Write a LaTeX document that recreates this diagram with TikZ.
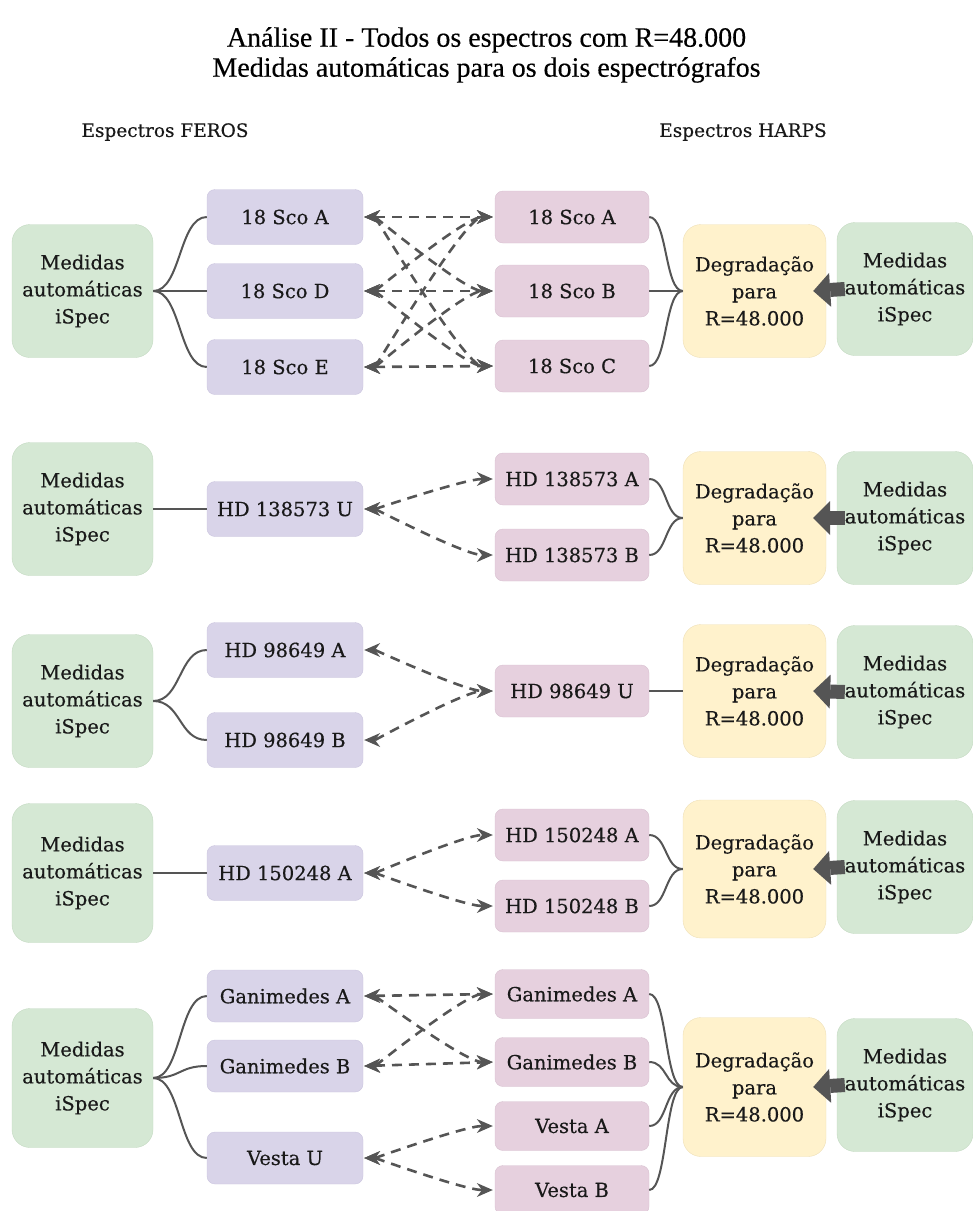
\documentclass[tikz,border=0pt]{standalone}
\usepackage{fontspec}
\setmainfont{DejaVu Serif}[FakeBold=0.4]
\newfontfamily\titlefont{Liberation Serif}[FakeBold=0.3]
\usetikzlibrary{arrows.meta}
\definecolor{greenFill}{HTML}{D5E8D4}
\definecolor{greenLine}{HTML}{C4DAC2}
\definecolor{purpleFill}{HTML}{D9D4E9}
\definecolor{purpleLine}{HTML}{CAC4DE}
\definecolor{pinkFill}{HTML}{E6D0DE}
\definecolor{pinkLine}{HTML}{D8C0D0}
\definecolor{yellowFill}{HTML}{FFF2CC}
\definecolor{yellowLine}{HTML}{EFE0B8}
\definecolor{linkGray}{HTML}{555555}
\tikzstyle{boxText} = [font=\fontsize{19.5}{27}\selectfont, align=center,
   inner sep=0pt, text=black!90]
\tikzstyle{bigGreen} = [boxText, fill=greenFill, draw=greenLine,
   rounded corners=18pt, minimum width=141pt, minimum height=133pt]
\tikzstyle{bigYellow} = [boxText, fill=yellowFill, draw=yellowLine,
   rounded corners=18pt, minimum width=143pt, minimum height=133pt]
\tikzstyle{rightGreen} = [bigGreen, minimum width=136pt]
\tikzstyle{ferosBox} = [boxText, fill=purpleFill, draw=purpleLine,
   rounded corners=8pt, minimum width=156pt, minimum height=55pt]
\tikzstyle{harpsBox} = [boxText, fill=pinkFill, draw=pinkLine,
   rounded corners=8pt, minimum width=154pt, minimum height=52pt]
\tikzstyle{solidLink} = [draw=linkGray, line width=2pt]
\tikzstyle{dashArrow} = [draw=linkGray, line width=2.6pt, dash pattern=on 10pt off 7pt,
   {Stealth[length=16pt,width=14pt,line width=0pt]}-{Stealth[length=16pt,width=14pt,line width=0pt]},
   shorten <=1pt, shorten >=2pt]
\tikzstyle{fatArrow} = [draw=linkGray, line width=14pt,
   -{Triangle[length=17pt,width=34pt,line width=0pt]}]

\begin{document}
\begin{tikzpicture}[x=1pt,y=-1pt]
  \useasboundingbox (0,0) rectangle (973,1211);
  \node[align=center, font=\titlefont\fontsize{28}{30}\selectfont] (title) at (486.5,55)
    {Análise II - Todos os espectros com R=48.000\\Medidas automáticas para os dois espectrógrafos};
  \node[boxText, font=\fontsize{18.5}{27}\selectfont] (feros) at (165,132) {Espectros FEROS};
  \node[boxText, font=\fontsize{18.5}{27}\selectfont] (harps) at (743,132) {Espectros HARPS};

  % 18 Sco
  \node[bigGreen] (gL1) at (82.5,291) {Medidas\\automáticas\\iSpec};
  \node[ferosBox] (pA) at (285,217) {18 Sco A};
  \node[ferosBox] (pD) at (285,291) {18 Sco D};
  \node[ferosBox] (pE) at (285,367) {18 Sco E};
  \node[harpsBox] (kA) at (572,217) {18 Sco A};
  \node[harpsBox] (kB) at (572,291) {18 Sco B};
  \node[harpsBox] (kC) at (572,366) {18 Sco C};
  \node[bigYellow] (y1) at (754.5,291) {Degradação\\para\\R=48.000};
  \node[rightGreen] (gR1) at (905,289) {Medidas\\automáticas\\iSpec};

  % HD 138573
  \node[bigGreen] (gL2) at (82.5,509) {Medidas\\automáticas\\iSpec};
  \node[ferosBox] (pU2) at (285,509) {HD 138573 U};
  \node[harpsBox] (kA2) at (572,479) {HD 138573 A};
  \node[harpsBox] (kB2) at (572,555) {HD 138573 B};
  \node[bigYellow] (y2) at (754.5,518) {Degradação\\para\\R=48.000};
  \node[rightGreen] (gR2) at (905,518) {Medidas\\automáticas\\iSpec};

  % HD 98649
  \node[bigGreen] (gL3) at (82.5,701) {Medidas\\automáticas\\iSpec};
  \node[ferosBox] (pA3) at (285,650) {HD 98649 A};
  \node[ferosBox] (pB3) at (285,740) {HD 98649 B};
  \node[harpsBox] (kU3) at (572,691) {HD 98649 U};
  \node[bigYellow] (y3) at (754.5,691) {Degradação\\para\\R=48.000};
  \node[rightGreen] (gR3) at (905,692) {Medidas\\automáticas\\iSpec};

  % HD 150248
  \node[bigGreen, minimum height=139pt] (gL4) at (82.5,873) {Medidas\\automáticas\\iSpec};
  \node[ferosBox] (pA4) at (285,873) {HD 150248 A};
  \node[harpsBox] (kA4) at (572,835) {HD 150248 A};
  \node[harpsBox] (kB4) at (572,906) {HD 150248 B};
  \node[bigYellow, minimum height=138pt] (y4) at (754.5,869) {Degradação\\para\\R=48.000};
  \node[rightGreen] (gR4) at (905,867) {Medidas\\automáticas\\iSpec};

  % Ganimedes and Vesta
  \node[bigGreen, minimum height=139pt] (gL5) at (82.5,1078) {Medidas\\automáticas\\iSpec};
  \node[ferosBox, minimum height=52pt] (pGA) at (285,996) {Ganimedes A};
  \node[ferosBox, minimum height=52pt] (pGB) at (285,1066) {Ganimedes B};
  \node[ferosBox, minimum height=52pt] (pVU) at (285,1158) {Vesta U};
  \node[harpsBox, minimum height=49pt] (kGA) at (572,994) {Ganimedes A};
  \node[harpsBox, minimum height=49pt] (kGB) at (572,1062) {Ganimedes B};
  \node[harpsBox, minimum height=49pt] (kVA) at (572,1126) {Vesta A};
  \node[harpsBox, minimum height=49pt] (kVB) at (572,1190) {Vesta B};
  \node[bigYellow, minimum height=139pt] (y5) at (754.5,1087) {Degradação\\para\\R=48.000};
  \node[rightGreen] (gR5) at (905,1085) {Medidas\\automáticas\\iSpec};

  % solid links
  \draw[solidLink] (gL1.east) .. controls +(28,0) and +(-28,0) .. (pA.west);
  \draw[solidLink] (gL1.east) -- (pD.west);
  \draw[solidLink] (gL1.east) .. controls +(28,0) and +(-28,0) .. (pE.west);
  \draw[solidLink] (kA.east) .. controls +(18,0) and +(-18,0) .. (y1.west);
  \draw[solidLink] (kB.east) -- (y1.west);
  \draw[solidLink] (kC.east) .. controls +(18,0) and +(-18,0) .. (y1.west);
  \draw[solidLink] (gL2.east) -- (pU2.west);
  \draw[solidLink] (kA2.east) .. controls +(18,0) and +(-18,0) .. (y2.west);
  \draw[solidLink] (kB2.east) .. controls +(18,0) and +(-18,0) .. (y2.west);
  \draw[solidLink] (gL3.east) .. controls +(28,0) and +(-28,0) .. (pA3.west);
  \draw[solidLink] (gL3.east) .. controls +(28,0) and +(-28,0) .. (pB3.west);
  \draw[solidLink] (kU3.east) -- (y3.west);
  \draw[solidLink] (gL4.east) -- (pA4.west);
  \draw[solidLink] (kA4.east) .. controls +(18,0) and +(-18,0) .. (y4.west);
  \draw[solidLink] (kB4.east) .. controls +(18,0) and +(-18,0) .. (y4.west);
  \draw[solidLink] (gL5.east) .. controls +(28,0) and +(-28,0) .. (pGA.west);
  \draw[solidLink] (gL5.east) .. controls +(28,0) and +(-28,0) .. (pGB.west);
  \draw[solidLink] (gL5.east) .. controls +(28,0) and +(-28,0) .. (pVU.west);
  \draw[solidLink] (kGA.east) .. controls +(18,0) and +(-18,0) .. (y5.west);
  \draw[solidLink] (kGB.east) .. controls +(18,0) and +(-18,0) .. (y5.west);
  \draw[solidLink] (kVA.east) .. controls +(18,0) and +(-18,0) .. (y5.west);
  \draw[solidLink] (kVB.east) .. controls +(18,0) and +(-18,0) .. (y5.west);

  % dashed double arrows between the two spectrographs
  \draw[dashArrow] (pA.east) -- (kA.west);
  \draw[dashArrow] (pA.east) .. controls +(12,0) and +(-30,0) .. (kB.west);
  \draw[dashArrow] (pA.east) .. controls +(12,0) and +(-30,0) .. (kC.west);
  \draw[dashArrow] (pD.east) .. controls +(12,0) and +(-30,0) .. (kA.west);
  \draw[dashArrow] (pD.east) -- (kB.west);
  \draw[dashArrow] (pD.east) .. controls +(12,0) and +(-30,0) .. (kC.west);
  \draw[dashArrow] (pE.east) .. controls +(12,0) and +(-30,0) .. (kA.west);
  \draw[dashArrow] (pE.east) .. controls +(12,0) and +(-30,0) .. (kB.west);
  \draw[dashArrow] (pE.east) -- (kC.west);
  \draw[dashArrow] (pU2.east) .. controls +(12,0) and +(-30,0) .. (kA2.west);
  \draw[dashArrow] (pU2.east) .. controls +(12,0) and +(-30,0) .. (kB2.west);
  \draw[dashArrow] (pA3.east) .. controls +(12,0) and +(-30,0) .. (kU3.west);
  \draw[dashArrow] (pB3.east) .. controls +(12,0) and +(-30,0) .. (kU3.west);
  \draw[dashArrow] (pA4.east) .. controls +(12,0) and +(-30,0) .. (kA4.west);
  \draw[dashArrow] (pA4.east) .. controls +(12,0) and +(-30,0) .. (kB4.west);
  \draw[dashArrow] (pGA.east) -- (kGA.west);
  \draw[dashArrow] (pGA.east) .. controls +(12,0) and +(-30,0) .. (kGB.west);
  \draw[dashArrow] (pGB.east) .. controls +(12,0) and +(-30,0) .. (kGA.west);
  \draw[dashArrow] (pGB.east) -- (kGB.west);
  \draw[dashArrow] (pVU.east) .. controls +(12,0) and +(-30,0) .. (kVA.west);
  \draw[dashArrow] (pVU.east) .. controls +(12,0) and +(-30,0) .. (kVB.west);

  % degradation input arrows
  \draw[fatArrow] ([xshift=8pt]gR1.west) -- ([xshift=-13pt]y1.east);
  \draw[fatArrow] ([xshift=8pt]gR2.west) -- ([xshift=-13pt]y2.east);
  \draw[fatArrow] ([xshift=8pt]gR3.west) -- ([xshift=-13pt]y3.east);
  \draw[fatArrow] ([xshift=8pt]gR4.west) -- ([xshift=-13pt]y4.east);
  \draw[fatArrow] ([xshift=8pt]gR5.west) -- ([xshift=-13pt]y5.east);
\end{tikzpicture}
\end{document}
